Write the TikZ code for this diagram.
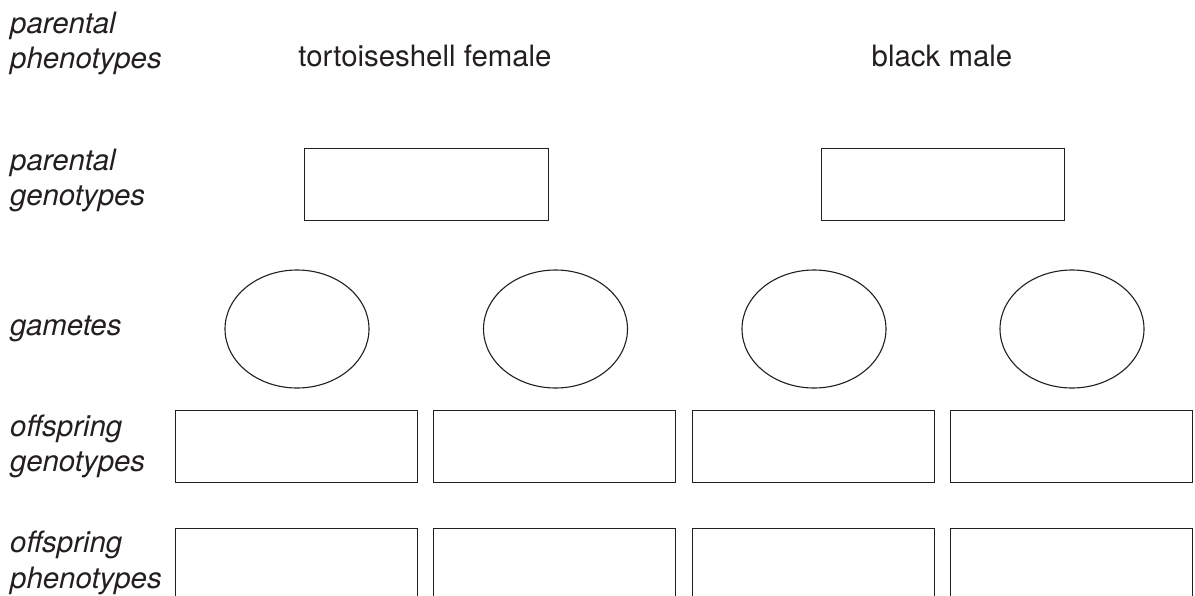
\documentclass[tikz,border=0pt]{standalone}
\usepackage{fontspec}
\setmainfont{TeX Gyre Heros}
\usetikzlibrary{shapes.geometric}
\definecolor{ink}{HTML}{231F20}
\begin{document}
\begin{tikzpicture}[x=1pt,y=-1pt,
  lbl/.style={font=\fontsize{29.4}{35.5}\selectfont\itshape, text=ink, align=left, anchor=base west, inner sep=0pt},
  head/.style={font=\fontsize{29.4}{35.5}\selectfont, text=ink, anchor=base, inner sep=0pt},
  answerbox/.style={draw=ink, line width=1.3pt, rectangle, inner sep=0pt, anchor=north west},
  gamete/.style={draw=ink, line width=1.1pt, ellipse, inner sep=0pt, minimum width=144pt, minimum height=118pt}]
\clip (0,0) rectangle (1195,595);
\fill[white] (0,0) rectangle (1195,595);
% row labels (anchor at the baseline of the last line)
\node[lbl] (l1) at (10,68.5) {parental\\phenotypes};
\node[lbl] (l2) at (10,205.5) {parental\\genotypes};
\node[lbl] (l3) at (10,335.5) {gametes};
\node[lbl] (l4) at (10,471.5) {offspring\\genotypes};
\node[lbl] (l5) at (10,588) {offspring\\phenotypes};
% phenotype headings
\node[head] (hf) at (425,66.7) {tortoiseshell female};
\node[head] (hm) at (942,66.7) {black male};
% parental genotype boxes
\node[answerbox, minimum width=244pt, minimum height=72pt] (pg1) at (304,148) {};
\node[answerbox, minimum width=243pt, minimum height=72pt] (pg2) at (821,148) {};
% gametes
\node[gamete] (g1) at (297,329) {};
\node[gamete] (g2) at (555.5,329) {};
\node[gamete] (g3) at (814,329) {};
\node[gamete] (g4) at (1072,329) {};
% offspring genotype boxes
\node[answerbox, minimum width=242pt, minimum height=72pt] (og1) at (175,410) {};
\node[answerbox, minimum width=242pt, minimum height=72pt] (og2) at (433,410) {};
\node[answerbox, minimum width=242pt, minimum height=72pt] (og3) at (692,410) {};
\node[answerbox, minimum width=242pt, minimum height=72pt] (og4) at (950,410) {};
% offspring phenotype boxes (cut at the bottom edge)
\node[answerbox, minimum width=242pt, minimum height=80pt] (op1) at (175,528) {};
\node[answerbox, minimum width=242pt, minimum height=80pt] (op2) at (433,528) {};
\node[answerbox, minimum width=242pt, minimum height=80pt] (op3) at (692,528) {};
\node[answerbox, minimum width=242pt, minimum height=80pt] (op4) at (950,528) {};
\end{tikzpicture}
\end{document}
